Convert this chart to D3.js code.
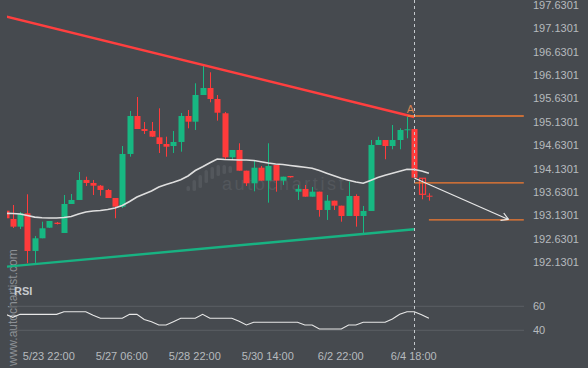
<!DOCTYPE html>
<html>
<head>
<meta charset="utf-8">
<script src="https://cdn.jsdelivr.net/npm/d3@7/dist/d3.min.js"></script>
<style>
html,body{margin:0;padding:0;background:#464a4f;overflow:hidden;}
</style>
</head>
<body>
<div id="g1"></div>
<script>
// 4H candles, index 0 = first (partly hidden) candle on the left
var opens  = [193.232,193.055,192.891,193.176,192.372,192.643,192.869,192.976,192.756,193.375,
              193.461,193.888,193.824,193.766,193.674,193.503,193.318,194.443,195.254,194.976,
              194.934,194.799,194.656,194.613,194.699,195.254,195.132,195.702,195.852,195.617,
              195.312,194.372,194.528,194.086,193.817,194.150,193.873,194.208,193.873,193.973,
              193.638,193.696,193.531,193.638,193.247,193.446,193.339,193.119,193.546,193.119,
              193.226,194.635,194.741,194.613,194.741,194.962,194.976,193.924,193.552];
var highs  = [193.268,193.354,193.204,193.582,192.692,192.997,193.012,192.991,193.567,193.589,
              194.058,193.958,193.888,193.781,193.696,193.503,194.613,195.361,195.660,195.126,
              195.126,195.418,194.812,194.934,195.318,195.382,195.952,196.321,196.187,195.702,
              195.339,194.528,194.671,194.086,194.293,194.186,194.671,194.208,193.958,193.973,
              193.781,193.781,193.738,193.638,193.567,193.446,193.339,193.851,193.582,193.333,
              194.741,194.812,194.741,195.062,194.991,195.239,194.976,193.924,193.604];
var lows   = [193.055,192.863,192.841,192.109,192.116,192.643,192.863,192.938,192.756,193.375,
              193.461,193.760,193.567,193.552,193.503,193.070,193.290,194.385,194.976,194.870,
              194.806,194.464,194.385,194.464,194.492,194.991,194.955,195.702,195.546,195.154,
              194.315,194.315,194.086,193.760,193.646,193.873,193.403,193.638,193.781,193.937,
              193.461,193.531,193.531,193.104,193.034,193.247,192.997,193.119,192.891,192.750,
              193.226,194.635,194.330,194.543,194.543,194.778,193.937,193.475,193.446];
var closes = [193.070,192.891,193.176,192.372,192.643,192.856,193.012,192.948,193.375,193.461,
              193.888,193.824,193.766,193.674,193.503,193.318,194.443,195.254,194.976,194.934,
              194.812,194.656,194.598,194.699,195.254,195.132,195.702,195.852,195.617,195.324,
              194.372,194.528,194.086,193.817,194.150,193.873,194.186,193.873,193.958,193.945,
              193.696,193.531,193.638,193.247,193.446,193.339,193.119,193.546,193.119,193.226,
              194.635,194.741,194.613,194.741,194.955,194.970,193.937,193.582,193.546];
var ma     = [193.176,193.172,193.162,193.130,193.094,193.081,193.077,193.077,193.087,193.108,
              193.162,193.204,193.226,193.236,193.258,193.290,193.343,193.429,193.525,193.589,
              193.653,193.738,193.792,193.841,193.894,193.973,194.090,194.169,194.255,194.336,
              194.325,194.319,194.315,194.315,194.304,194.278,194.251,194.229,194.217,194.197,
              194.178,194.161,194.140,194.090,194.033,193.977,193.924,193.881,193.845,193.817,
              193.877,193.941,193.988,194.033,194.073,194.116,194.112,194.080,194.033];
var rsi    = [53.3,50.8,53.3,53.3,53.3,53.3,53.3,53.3,55.5,55.5,
              55.5,55.5,52.5,50,50,50,50,53.3,53.3,49,
              47.2,44.4,44.4,47.2,50,50,50,53.3,50,50,
              50,50,47.5,44.4,46.7,46.7,46.7,46.7,46.7,46.7,
              46.7,44.4,44.4,41.1,41.1,41.1,41.1,44.4,44.4,46.7,
              46.7,46.7,46.7,49.4,53.3,55.5,55.5,53,50];
var openCandle = 57;   // unfinished candle, drawn hollow

var xTickIdx = [6,16,26,36,46,56];
var xTickLabels = ["5/23 22:00","5/27 06:00","5/28 22:00","5/30 14:00","6/2 22:00","6/4 18:00"];
var yTicks = [192.1301,192.6301,193.1301,193.6301,194.1301,194.6301,195.1301,195.6301,196.1301,196.6301,197.1301,197.6301];
var rsiTicks = [40,60];

// pattern lines [index, price]
var resistance = [[0,197.382],[56,195.233]];
var support = [[0,192.034],[56,192.835]];
var levels = [195.254,193.824,193.034];
var levelStart = [55.1,56,58];
var levelEnd = 71;
var forecast = [[56,193.93],[68.9,193.045]];
var markIdx = 56;

var w = 588, h = 368;
var svg = d3.select("#g1").append("svg").attr("width",w).attr("height",h);
svg.append("rect").attr("width",w).attr("height",h).style("fill","#464a4f");

var x = d3.scaleLinear().domain([6,56]).range([49.3,414.3]);
var y = d3.scaleLinear().domain([192.1301,197.6301]).range([262.3,4.7]);
var yR = d3.scaleLinear().domain([40,60]).range([330.3,306.3]);

svg.append("defs").append("clipPath").attr("id","plot")
   .append("rect").attr("x",7).attr("y",0).attr("width",517).attr("height",282);

// watermark
var wm = svg.append("g").style("fill","#53575c");
[[188,186,191],[194,180,191],[200,175,188],[206,170,183],[212,167,179],[218,165,176],[224,165,174],[230,166,173]]
  .forEach(function(b){
    wm.append("rect").attr("x",b[0]-1.5).attr("y",b[1]).attr("width",3.5).attr("height",b[2]-b[1]).attr("rx",1.5);
  });
wm.append("text").attr("x",222).attr("y",190).text("autochartist")
  .style("font-family","Liberation Sans, Arial, sans-serif").style("font-size","18px").style("letter-spacing","2.6px");

svg.append("text").attr("transform","translate(16.5,366) rotate(-90)").text("www.autochartist.com")
  .style("font-family","Liberation Sans, Arial, sans-serif").style("font-size","12px").style("fill","#8c9095");

// RSI panel
svg.selectAll(".rgrid").data(rsiTicks).enter().append("line").attr("class","rgrid")
   .attr("x1",9).attr("x2",524).attr("y1",function(d){return yR(d);}).attr("y2",function(d){return yR(d);})
   .style("stroke","#5a5e63").style("stroke-width",1);
svg.append("text").attr("x",14).attr("y",295).text("RSI")
   .style("font-family","Liberation Sans, Arial, sans-serif").style("font-size","11px").style("font-weight","bold").style("fill","#c6cace");
var rline = d3.line().x(function(d,i){return x(i);}).y(function(d){return yR(d);});
svg.append("path").attr("d",rline(rsi)).attr("clip-path","url(#plot2)")
   .style("fill","none").style("stroke","#e8e8e8").style("stroke-width",1.1);
svg.select("defs").append("clipPath").attr("id","plot2")
   .append("rect").attr("x",7).attr("y",282).attr("width",517).attr("height",70);

// price plot
var g = svg.append("g").attr("clip-path","url(#plot)");
var idx = d3.range(opens.length);
var green = "#17b882", red = "#ff3b3b";
function col(i){ return closes[i] >= opens[i] ? green : red; }

g.selectAll(".wick").data(idx).enter().append("line").attr("class","wick")
 .attr("x1",function(i){return Math.round(x(i))+0.5;}).attr("x2",function(i){return Math.round(x(i))+0.5;})
 .attr("y1",function(i){return y(highs[i]);}).attr("y2",function(i){return y(lows[i]);})
 .style("stroke",col).style("stroke-width",1);

g.selectAll(".body").data(idx).enter().append("rect").attr("class","body")
 .attr("x",function(i){return Math.round(x(i))-2.5;})
 .attr("y",function(i){return y(Math.max(opens[i],closes[i]));})
 .attr("width",6)
 .attr("height",function(i){return Math.max(1,Math.abs(y(opens[i])-y(closes[i])));})
 .style("fill",function(i){return i==openCandle ? "none" : col(i);})
 .style("stroke",function(i){return i==openCandle ? red : "none";})
 .style("stroke-width",1.2);

var line = d3.line().x(function(d,i){return x(i);}).y(function(d){return y(d);});
g.append("path").attr("d",line(ma)).style("fill","none").style("stroke","#dedede").style("stroke-width",1.6);

var tl = d3.line().x(function(d){return x(d[0]);}).y(function(d){return y(d[1]);});
g.append("path").attr("d",tl(resistance)).style("fill","none").style("stroke","#ff3f3f").style("stroke-width",2.4);
g.append("path").attr("d",tl(support)).style("fill","none").style("stroke","#18b282").style("stroke-width",2.4);

levels.forEach(function(v,k){
  g.append("line").attr("x1",x(levelStart[k])).attr("x2",x(levelEnd)).attr("y1",y(v)).attr("y2",y(v))
   .style("stroke","#f47b30").style("stroke-width",1.3);
});

g.append("path").attr("d",tl(forecast)).style("fill","none").style("stroke","#e8e8e8").style("stroke-width",1.2);
var tx = x(forecast[1][0]), ty = y(forecast[1][1]);
var ang = Math.atan2(ty - y(forecast[0][1]), tx - x(forecast[0][0])) + Math.PI;
[Math.PI/6, -Math.PI/6].forEach(function(a){
  g.append("line").attr("x1",tx).attr("y1",ty)
   .attr("x2",tx + 8*Math.cos(ang+a)).attr("y2",ty + 8*Math.sin(ang+a))
   .style("stroke","#e8e8e8").style("stroke-width",1.2);
});

g.append("text").attr("x",x(markIdx)-4).attr("y",y(levels[0])-3).text("A").attr("text-anchor","middle")
 .style("font-family","Liberation Sans, Arial, sans-serif").style("font-size","11px").style("fill","#d98552");

// current time marker
svg.append("line").attr("x1",Math.round(x(markIdx))+0.5).attr("x2",Math.round(x(markIdx))+0.5)
   .attr("y1",0).attr("y2",350)
   .style("stroke","#c4c8cc").style("stroke-width",1).style("stroke-dasharray","3,3");

// axes
var yAxis = d3.axisRight(y).tickValues(yTicks).tickSize(0).tickPadding(9).tickFormat(d3.format(".4f"));
var ya = svg.append("g").attr("transform","translate(524,0)").call(yAxis);
var rAxis = d3.axisRight(yR).tickValues(rsiTicks).tickSize(0).tickPadding(9);
var ra = svg.append("g").attr("transform","translate(524,0)").call(rAxis);
var xAxis = d3.axisBottom(x).tickValues(xTickIdx).tickSize(0).tickPadding(6)
   .tickFormat(function(d,i){return xTickLabels[i];});
var xa = svg.append("g").attr("transform","translate(-1,346)").call(xAxis);

[ya,ra,xa].forEach(function(a){
  a.select(".domain").remove();
  a.selectAll("text").style("font-family","Liberation Sans, Arial, sans-serif")
   .style("font-size","11px").style("fill","#b6babe");
});
</script>
</body>
</html>
